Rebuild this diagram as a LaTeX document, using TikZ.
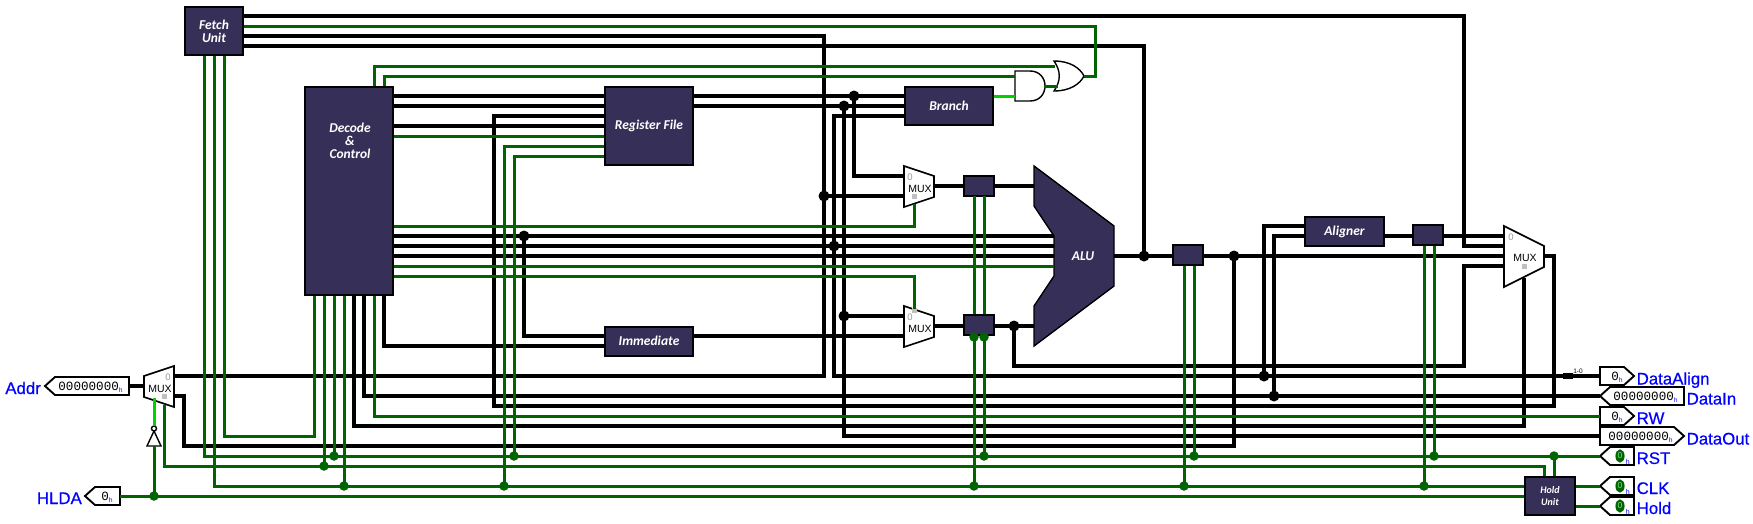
\documentclass[tikz,border=0pt]{standalone}
\usepackage{fontspec}
\setmainfont{Liberation Sans}
\newfontfamily\boxfont{Carlito}
\newfontfamily\pinfont{Liberation Mono}
\newfontfamily\labelfont[FakeBold=0.5]{Liberation Sans}
\definecolor{boxcol}{RGB}{54,48,88}
\definecolor{wgreen}{RGB}{0,100,0}
\definecolor{wlive}{RGB}{0,210,0}
\definecolor{pinblue}{RGB}{0,0,255}
\newcommand{\hmark}{{\color{pinblue}\fontsize{6.5}{6.5}\selectfont\raisebox{-1.5pt}{h}}}
\usetikzlibrary{shapes.geometric}
\tikzset{
  blockbox/.style={draw=black,line width=2pt,fill=boxcol,text=white,inner sep=0pt,align=center,
    font=\boxfont\bfseries\itshape\fontsize{13.5}{13}\selectfont},
  blocktext/.style={text=white,inner sep=0pt,align=center,
    font=\boxfont\bfseries\itshape\fontsize{13.5}{13}\selectfont},
  bw/.style={draw=black,line width=3.8pt,line cap=square,miter limit=10},
  gw/.style={draw=wgreen,line width=3pt,line cap=square,miter limit=10},
  lw/.style={draw=wlive,line width=3pt,line cap=square},
  jb/.style={circle,fill=black,inner sep=0pt,minimum size=11pt},
  jg/.style={circle,fill=wgreen,inner sep=0pt,minimum size=9.5pt},
  muxbody/.style={draw=black,line width=1.6pt,fill=white,line join=miter},
  gatebody/.style={draw=black,line width=1.4pt,fill=white},
  pinbody/.style={draw=black,line width=1.9pt,fill=white,line join=miter},
  muxtext/.style={inner sep=0pt,font=\fontsize{10.5}{11}\selectfont},
  muxzero/.style={inner sep=0pt,text=gray!80,font=\fontsize{9.5}{10}\selectfont},
  muxsq/.style={fill=gray!50,inner sep=0pt,minimum size=5pt},
  pinval/.style={inner sep=0pt,anchor=base east,font=\pinfont\fontsize{12.6}{13}\selectfont},
  pinlabel/.style={inner sep=0pt,text=pinblue,font=\labelfont\fontsize{16.8}{17}\selectfont},
  cstate/.style={ellipse,draw=wgreen,fill=wgreen,text=wlive!50!white,line width=1.6pt,inner sep=0pt,
    minimum width=7.5pt,minimum height=11.5pt,font=\fontsize{8.5}{9}\selectfont},
}
\begin{document}
\begin{tikzpicture}[x=1pt,y=-1pt]
\useasboundingbox (0,0) rectangle (1753,523);
\fill[white] (0,0) rectangle (1753,523);

% ---- blocks
\node[blockbox,minimum width=58pt,minimum height=48pt] (fetch) at (214,31) {Fetch\\Unit};
\node[blockbox,minimum width=88pt,minimum height=208pt] (decode) at (349,191) {};
\node[blocktext] (decodetext) at (350,141) {Decode\\\&\\Control};
\node[blockbox,minimum width=88pt,minimum height=78pt] (regfile) at (649,126) {Register File};
\node[blockbox,minimum width=88pt,minimum height=29pt] (immediate) at (649,341) {Immediate};
\node[blockbox,minimum width=88pt,minimum height=38pt] (branch) at (949,106) {Branch};
\node[blockbox,minimum width=79pt,minimum height=29pt] (aligner) at (1344.5,231.5) {Aligner};
\node[blockbox,minimum width=30pt,minimum height=20pt] (regA) at (978.5,185.5) {};
\node[blockbox,minimum width=30pt,minimum height=20pt] (regB) at (978.5,325) {};
\node[blockbox,minimum width=30pt,minimum height=20pt] (regC) at (1188,255) {};
\node[blockbox,minimum width=30pt,minimum height=20pt] (regD) at (1428,235) {};
\node[blockbox,minimum width=50pt,minimum height=38pt,font=\boxfont\bfseries\itshape\fontsize{10}{12}\selectfont] (hold) at (1550,496) {Hold\\Unit};
\filldraw[draw=black,line width=1.4pt,fill=boxcol] (1034,166) -- (1114,226) -- (1114,286) -- (1034,346) -- (1034,306) -- (1054,276) -- (1054,236) -- (1034,206) -- cycle;
\node[blocktext] (alu) at (1083,256) {ALU};

% ---- multiplexers
\draw[muxbody] (904,166) -- (934,176) -- (934,197) -- (904,207) -- cycle;
\node[muxtext] (muxAt) at (920,188.5) {MUX};
\node[muxzero] (muxAz) at (910,177) {0};
\node[muxsq] (muxAs) at (914,196.5) {};
\draw[muxbody] (904,306) -- (934,316) -- (934,337) -- (904,347) -- cycle;
\node[muxtext] (muxBt) at (920,329) {MUX};
\node[muxzero] (muxBz) at (910,317) {0};
\node[muxsq] (muxBs) at (914,310) {};
\draw[muxbody] (1504,226) -- (1544,246) -- (1544,267) -- (1504,287) -- cycle;
\node[muxtext] (muxCt) at (1525,258) {MUX};
\node[muxzero] (muxCz) at (1511,237) {0};
\node[muxsq] (muxCs) at (1524,266.5) {};
\draw[muxbody] (174,366) -- (144,376) -- (144,397) -- (174,407) -- cycle;
\node[muxtext] (muxDt) at (160,389) {MUX};
\node[muxzero] (muxDz) at (168,377) {0};
\node[muxsq] (muxDs) at (164,396) {};

% ---- gates
\draw[gatebody] (1015,71) -- (1030,71) .. controls (1050,71) and (1050,101) .. (1030,101) -- (1015,101) -- cycle;
\draw[gatebody] (1054,61) .. controls (1070,61) and (1080,68) .. (1084,76) .. controls (1080,84) and (1070,91) .. (1054,91) .. controls (1061,81) and (1061,71) .. (1054,61) -- cycle;
\draw[gatebody] (147,446) -- (161,446) -- (154,431) -- cycle;
\draw[gatebody] (154,428.5) circle (2.5pt);

% ---- pins
\draw[pinbody] (1600,367) -- (1624,367) -- (1634,376) -- (1624,385) -- (1600,385) -- cycle;
\draw[pinbody] (1600,396) -- (1610,387) -- (1684,387) -- (1684,405) -- (1610,405) -- cycle;
\draw[pinbody] (1600,407) -- (1624,407) -- (1634,416) -- (1624,425) -- (1600,425) -- cycle;
\draw[pinbody] (1600,427) -- (1674,427) -- (1684,436) -- (1674,445) -- (1600,445) -- cycle;
\draw[pinbody] (1600,456) -- (1610,447) -- (1634,447) -- (1634,465) -- (1610,465) -- cycle;
\draw[pinbody] (1600,486) -- (1610,477) -- (1634,477) -- (1634,495) -- (1610,495) -- cycle;
\draw[pinbody] (1600,506) -- (1610,497) -- (1634,497) -- (1634,515) -- (1610,515) -- cycle;
\draw[pinbody] (45,386) -- (55,377) -- (129,377) -- (129,395) -- (55,395) -- cycle;
\draw[pinbody] (85,496) -- (95,487) -- (120,487) -- (120,505) -- (95,505) -- cycle;
\node[pinval] (vDA) at (1623,380.5) {0\hmark};
\node[pinval] (vDI) at (1678,400.5) {00000000\hmark};
\node[pinval] (vRW) at (1623,420.5) {0\hmark};
\node[pinval] (vDO) at (1673,440.5) {00000000\hmark};
\node[pinval] (vAd) at (123,390.5) {00000000\hmark};
\node[pinval] (vHL) at (113,500.5) {0\hmark};
\node[cstate] (sRST) at (1620,456) {0};
\node[cstate] (sCLK) at (1620,486) {0};
\node[cstate] (sHOL) at (1620,506) {0};
\node[pinval,font=\fontsize{7}{7}\selectfont\color{pinblue}] (hRST) at (1630,464) {h};
\node[pinval,font=\fontsize{7}{7}\selectfont\color{pinblue}] (hCLK) at (1630,494) {h};
\node[pinval,font=\fontsize{7}{7}\selectfont\color{pinblue}] (hHOL) at (1630,514) {h};
\node[pinlabel,anchor=base west] (lDA) at (1636.5,384.5) {DataAlign};
\node[pinlabel,anchor=base west] (lDI) at (1686.5,404.5) {DataIn};
\node[pinlabel,anchor=base west] (lRW) at (1636.5,424) {RW};
\node[pinlabel,anchor=base west] (lDO) at (1686.5,444.5) {DataOut};
\node[pinlabel,anchor=base west] (lRS) at (1636.5,464) {RST};
\node[pinlabel,anchor=base west] (lCK) at (1636.5,494) {CLK};
\node[pinlabel,anchor=base west] (lHD) at (1636.5,514) {Hold};
\node[pinlabel,anchor=base east] (lAd) at (41,394) {Addr};
\node[pinlabel,anchor=base east] (lHL) at (82,504) {HLDA};
\node[inner sep=0pt,font=\fontsize{6.5}{7}\selectfont] (split) at (1578,371) {1-0};

% ---- junctions
\foreach \n/\x/\y in {jD/524/236,jPC/824/196,jU/854/96,jV/844/106,jW/844/316,jX/834/246,jY/1014/326,jAlu/1144/256,jZ/1234/256,jAA/1264/376,jAB/1274/396}
  \node[jb] (\n) at (\x,\y) {};
\foreach \n/\x/\y in {gHL/154/496,g1/334/456,g2/324/466,g3/344/486,g4/504/486,g5/514/456,g6/974/486,g7/984/456,g8/1184/486,g9/1194/456,g10/1424/486,g11/1434/456,g12/1554/456,g13/974/337,g14/984/337}
  \node[jg] (\n) at (\x,\y) {};

% ---- pin coordinates and corners
\foreach \n/\x/\y in {
 fA/244/16,fB/244/26,fC/244/36,fD/244/46,fE/204/56,fF/214/56,fG/224/56,
 dT1/374/86,dT2/384/86,dR1/394/96,dR2/394/106,dR3/394/126,dR4/394/136,dR5/394/226,dR6/394/236,dR7/394/246,dR8/394/256,dR9/394/266,dR10/394/276,
 dB1/314/296,dB2/324/296,dB3/334/296,dB4/344/296,dB5/354/296,dB6/364/296,dB7/374/296,dB8/384/296,
 rL1/604/96,rL2/604/106,rL3/604/116,rL4/604/126,rL5/604/136,rL6/604/146,rL7/604/156,rR1/694/96,rR2/694/106,
 iL1/604/336,iL2/604/346,iR/694/336,
 bL1/904/96,bL2/904/106,bL3/904/116,bR/994/96,
 uI1/904/176,uI2/904/196,uS/914/204,uO/934/186,lI1/904/316,lI2/904/336,lS/914/309,lO/934/326,
 aA1/1054/236,aA2/1054/246,aA3/1054/256,aA4/1054/266,aL1/1034/186,aL2/1034/326,aO/1114/256,
 rAL/963/186,rAR/994/186,rBL/963/326,rBR/994/326,rAb1/974/196,rAb2/984/196,rBt1/974/314,rBt2/984/314,rBb1/974/336,rBb2/984/336,
 rCL/1173/256,rCR/1204/256,rCb1/1184/266,rCb2/1194/266,
 alL1/1304/226,alL2/1304/236,alR/1384/236,rDL/1412/236,rDR/1444/236,rDb1/1424/246,rDb2/1434/246,
 mI1/1504/236,mI2/1504/246,mI3/1504/256,mI4/1504/266,mO/1544/256,mS/1524/278,
 xI0/174/376,xI1/174/396,xO/144/386,xS1/154/398,xS2/164/405,nT/154/426,nB/154/446,
 pDA/1600/376,pDI/1600/396,pRW/1600/416,pDO/1600/436,pRS/1600/456,pCK/1600/486,pHD/1600/506,pAd/129/386,pHL/120/496,
 hL1/1524/486,hL2/1524/496,hT1/1544/476,hT2/1554/476,hR1/1576/486,hR2/1576/506,
 oI1/1055/66,oI2/1058/86,oO/1084/76,anI1/1015/76,anI2/1015/96,anO/1044/86,
 cA/1464/246,cB/824/376,cC/1095/76,cD/314/436,cE/1524/426,cF/834/376,cG/844/436,cH/1554/406,cI/494/406,cJ/1234/446,cK/184/446,cL/1464/366,cM/1544/466,cN/164/466,spA/1563/376,spB/1573/376}
  \coordinate (\n) at (\x,\y);

% ---- black wires
\draw[bw] (fA) -| (cA) -- (mI2);
\draw[bw] (fC) -| (cB) -- (xI0);
\draw[bw] (jPC.center) -- (uI2);
\draw[bw] (fD) -| (jAlu.center);
\draw[bw] (dR1) -- (rL1);
\draw[bw] (dR2) -- (rL2);
\draw[bw] (dR3) -- (rL4);
\draw[bw] (dR6) -- (aA1);
\draw[bw] (dR7) -- (aA2);
\draw[bw] (dR8) -- (aA3);
\draw[bw] (jD.center) |- (iL1);
\draw[bw] (dB8) |- (iL2);
\draw[bw] (dB5) |- (cE) -- (mS);
\draw[bw] (dB6) |- (pDI);
\draw[bw] (rR1) -- (bL1);
\draw[bw] (rR2) -- (bL2);
\draw[bw] (jU.center) |- (uI1);
\draw[bw] (bL3) -| (cF) -- (pDA);
\draw[bw] (jV.center) -- (cG) -- (pDO);
\draw[bw] (jW.center) -- (lI1);
\draw[bw] (iR) -- (lI2);
\draw[bw] (uO) -- (rAL);
\draw[bw] (rAR) -- (aL1);
\draw[bw] (lO) -- (rBL);
\draw[bw] (rBR) -- (aL2);
\draw[bw] (jY.center) |- (cL) |- (mI4);
\draw[bw] (aO) -- (rCL);
\draw[bw] (rCR) -- (mI3);
\draw[bw] (jZ.center) -- (cJ) -- (cK) |- (xI1);
\draw[bw] (jAA.center) |- (alL1);
\draw[bw] (jAB.center) |- (alL2);
\draw[bw] (alR) -- (rDL);
\draw[bw] (rDR) -- (mI1);
\draw[bw] (mO) -| (cH) -- (cI) |- (rL3);
\draw[bw] (xO) -- (pAd);
\draw[black,line width=5.5pt] (spA) -- (spB);

% ---- green wires
\draw[gw] (fB) -| (cC) -- (oO);
\draw[gw] (fE) |- (pRS);
\draw[gw] (fF) |- (hL1);
\draw[gw] (fG) |- (cD) -- (dB1);
\draw[gw] (dT1) |- (oI1);
\draw[gw] (dT2) |- (anI1);
\draw[gw] (dR4) -- (rL5);
\draw[gw] (dR5) -| (uS);
\draw[gw] (dR9) -- (aA4);
\draw[gw] (dR10) -| (lS);
\draw[gw] (dB2) -- (g2.center);
\draw[gw] (dB3) -- (g1.center);
\draw[gw] (dB4) -- (g3.center);
\draw[gw] (dB7) |- (pRW);
\draw[gw] (xS2) -- (cN) -- (cM) -- (hT1);
\draw[gw] (rL6) -| (g4.center);
\draw[gw] (rL7) -| (g5.center);
\draw[gw] (rAb1) -- (rBt1);
\draw[gw] (rAb2) -- (rBt2);
\draw[gw] (rBb1) -- (g6.center);
\draw[gw] (rBb2) -- (g7.center);
\draw[gw] (rCb1) -- (g8.center);
\draw[gw] (rCb2) -- (g9.center);
\draw[gw] (rDb1) -- (g10.center);
\draw[gw] (rDb2) -- (g11.center);
\draw[gw] (g12.center) -- (hT2);
\draw[gw] (pHL) -- (hL2);
\draw[gw] (gHL.center) -- (nB);
\draw[gw] (hR1) -- (pCK);
\draw[gw] (hR2) -- (pHD);
\draw[gw] (anO) -- (oI2);
\draw[lw] (nT) -- (xS1);
\draw[lw] (bR) -- (anI2);
\end{tikzpicture}
\end{document}
